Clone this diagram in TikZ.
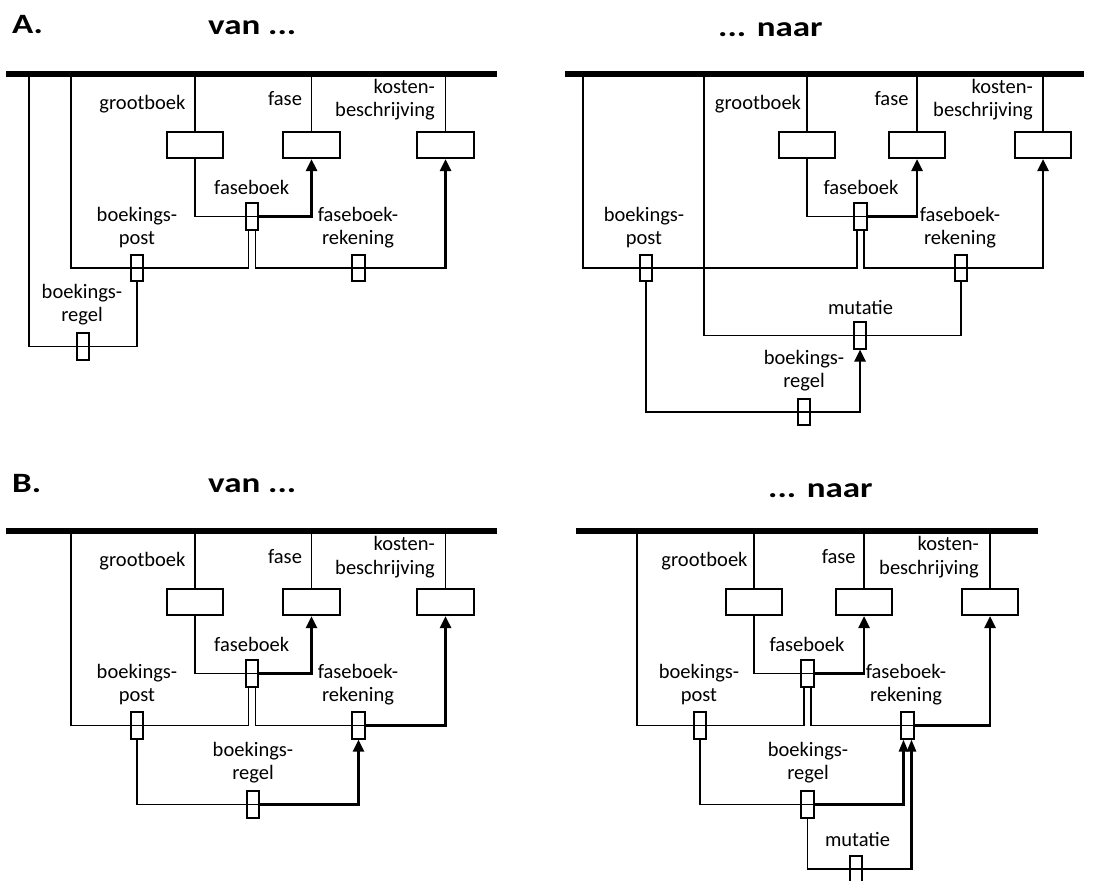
\documentclass[tikz,border=0pt]{standalone}
\usepackage{fontspec}
\usepackage{graphicx}
\setmainfont{Carlito}
\usetikzlibrary{arrows.meta}

% two-line labels whose baseline is that of the first line
\newcommand\lblc[2]{\vtop{\halign{\hfil##\hfil\cr#1\cr#2\cr}}}
\newcommand\lblr[2]{\vtop{\halign{\hfil##\cr#1\cr#2\cr}}}
\newcommand\hdrtext[1]{\scalebox{1.25}[1]{#1}}

\tikzset{
  ent/.style={draw, line width=1.6pt, minimum width=56.5pt, minimum height=26.5pt, inner sep=0pt},
  rel/.style={draw, line width=1.6pt, minimum width=12.5pt, minimum height=26.5pt, inner sep=0pt},
  ln/.style={line width=1.6pt},
  fn/.style={line width=2.6pt, -{Triangle[width=11pt,length=12pt]}},
  fnn/.style={line width=2.6pt, -{Triangle[width=9pt,length=12pt]}},
  bar/.style={line width=5.5pt},
  lbl/.style={font=\fontsize{20.5}{23.7}\selectfont, inner sep=0pt, anchor=base},
  lblR/.style={lbl, anchor=base east},
  hdr/.style={font=\fontsize{28}{30}\selectfont\bfseries, inner sep=0pt, anchor=base west},
}

\begin{document}
\begin{tikzpicture}[x=1pt, y=-1pt]
\useasboundingbox (0,0) rectangle (1115,880);
\clip (0,0) rectangle (1115,880);

% ---------- headings ----------
\node[hdr] (hA)  at (12,34)  {\hdrtext{A.}};
\node[hdr] (hAv) at (208,35) {\hdrtext{van ...}};
\node[hdr] (hAn) at (718,37) {\hdrtext{... naar}};
\node[hdr] (hB)  at (12,492) {\hdrtext{B.}};
\node[hdr] (hBv) at (208,492) {\hdrtext{van ...}};
\node[hdr] (hBn) at (768,497) {\hdrtext{... naar}};

% ================= A: van =================
\coordinate (avL) at (6,74);
\coordinate (avR) at (497,74);
\coordinate (av1) at (29,74);
\coordinate (av2) at (71,74);
\draw[bar] (avL) -- (avR);

\node[ent] (avG)  at (195,145) {};
\node[ent] (avF)  at (311.5,145) {};
\node[ent] (avK)  at (445.5,145) {};
\node[rel] (avFB) at (252,216.5) {};
\node[rel] (avP)  at (137,268) {};
\node[rel] (avFR) at (358.5,268) {};
\node[rel] (avBR) at (83,346.5) {};

\node[lbl]  (avGl)  at (142.5,109.3) {grootboek};
\node[lbl]  (avFl)  at (285,106) {fase};
\node[lblR] (avKl)  at (435,93.3) {\lblr{kosten-}{beschrijving}};
\node[lbl]  (avFBl) at (251.7,194.3) {faseboek};
\node[lbl]  (avPl)  at (137,221) {\lblc{boekings-}{post}};
\node[lbl]  (avFRl) at (358,221) {\lblc{faseboek-}{rekening}};
\node[lbl]  (avBRl) at (82,298) {\lblc{boekings-}{regel}};

\draw[ln] (avG.north) -- (avG.north |- avL);
\draw[ln] (avF.north) -- (avF.north |- avL);
\draw[ln] (avK.north) -- (avK.north |- avL);
\draw[ln] (avG.south) |- (avFB.east);
\draw[fn] (avFB.east) -| (avF.south);
\draw[ln] ([xshift=-3.5pt]avFB.south) |- (avP.center) -| (av2);
\draw[ln] ([xshift=3.5pt]avFB.south) |- (avFR.east);
\draw[fn] (avFR.east) -| (avK.south);
\draw[ln] (av1) |- (avBR.center) -| (avP.south);

% ================= A: naar =================
\coordinate (anL) at (565,74);
\coordinate (anR) at (1084,74);
\coordinate (an1) at (583,74);
\coordinate (an2) at (704,74);
\draw[bar] (anL) -- (anR);

\node[ent] (anG)  at (807,145) {};
\node[ent] (anF)  at (917,145) {};
\node[ent] (anK)  at (1043,145) {};
\node[rel] (anFB) at (860.5,216.5) {};
\node[rel] (anP)  at (646,268) {};
\node[rel] (anFR) at (961,268) {};
\node[rel] (anM)  at (860,335.5) {};
\node[rel] (anBR) at (804,412) {};

\node[lbl]  (anGl)  at (758,109.3) {grootboek};
\node[lbl]  (anFl)  at (891.5,106) {fase};
\node[lblR] (anKl)  at (1033,93.3) {\lblr{kosten-}{beschrijving}};
\node[lbl]  (anFBl) at (861,194.3) {faseboek};
\node[lbl]  (anPl)  at (644,221) {\lblc{boekings-}{post}};
\node[lbl]  (anFRl) at (960,221) {\lblc{faseboek-}{rekening}};
\node[lbl]  (anMl)  at (860.5,314) {mutatie};
\node[lbl]  (anBRl) at (804,364) {\lblc{boekings-}{regel}};

\draw[ln] (anG.north) -- (anG.north |- anL);
\draw[ln] (anF.north) -- (anF.north |- anL);
\draw[ln] (anK.north) -- (anK.north |- anL);
\draw[ln] (anG.south) |- (anFB.east);
\draw[fn] (anFB.east) -| (anF.south);
\draw[ln] ([xshift=-3.5pt]anFB.south) |- (anP.center) -| (an1);
\draw[ln] ([xshift=3.5pt]anFB.south) |- (anFR.east);
\draw[fn] (anFR.east) -| (anK.south);
\draw[ln] (anFR.south) |- (anM.center) -| (an2);
\draw[ln] (anP.south) |- (anBR.east);
\draw[fn] (anBR.east) -| (anM.south);

% ================= B: van =================
\coordinate (bvL) at (6,531);
\coordinate (bvR) at (497,531);
\coordinate (bv2) at (71,531);
\draw[bar] (bvL) -- (bvR);

\node[ent] (bvG)  at (195,602) {};
\node[ent] (bvF)  at (311.5,602) {};
\node[ent] (bvK)  at (445.5,602) {};
\node[rel] (bvFB) at (252,673.5) {};
\node[rel] (bvP)  at (137,725.5) {};
\node[rel] (bvFR) at (358.5,725.5) {};
\node[rel] (bvBR) at (253,804.5) {};

\node[lbl]  (bvGl)  at (142.5,566.3) {grootboek};
\node[lbl]  (bvFl)  at (285,563) {fase};
\node[lblR] (bvKl)  at (435,550.3) {\lblr{kosten-}{beschrijving}};
\node[lbl]  (bvFBl) at (251.7,651.3) {faseboek};
\node[lbl]  (bvPl)  at (137,678) {\lblc{boekings-}{post}};
\node[lbl]  (bvFRl) at (358,678) {\lblc{faseboek-}{rekening}};
\node[lbl]  (bvBRl) at (253,756) {\lblc{boekings-}{regel}};

\draw[ln] (bvG.north) -- (bvG.north |- bvL);
\draw[ln] (bvF.north) -- (bvF.north |- bvL);
\draw[ln] (bvK.north) -- (bvK.north |- bvL);
\draw[ln] (bvG.south) |- (bvFB.east);
\draw[fn] (bvFB.east) -| (bvF.south);
\draw[ln] ([xshift=-3.5pt]bvFB.south) |- (bvP.center) -| (bv2);
\draw[ln] ([xshift=3.5pt]bvFB.south) |- (bvFR.east);
\draw[fn] (bvFR.east) -| (bvK.south);
\draw[ln] (bvP.south) |- (bvBR.east);
\draw[fn] (bvBR.east) -| (bvFR.south);

% ================= B: naar =================
\coordinate (bnL) at (576,531);
\coordinate (bnR) at (1038,531);
\coordinate (bn1) at (637,531);
\draw[bar] (bnL) -- (bnR);

\node[ent] (bnG)  at (754,602) {};
\node[ent] (bnF)  at (864,602) {};
\node[ent] (bnK)  at (990,602) {};
\node[rel] (bnFB) at (807.5,673.5) {};
\node[rel] (bnP)  at (700,725.5) {};
\node[rel] (bnFR) at (907.5,725.5) {};
\node[rel] (bnBR) at (807.5,804.5) {};
\node[rel] (bnM)  at (856,869) {};

\node[lbl]  (bnGl)  at (704.5,566.3) {grootboek};
\node[lbl]  (bnFl)  at (838.7,563) {fase};
\node[lblR] (bnKl)  at (979,550.3) {\lblr{kosten-}{beschrijving}};
\node[lbl]  (bnFBl) at (807,651.3) {faseboek};
\node[lbl]  (bnPl)  at (699,678) {\lblc{boekings-}{post}};
\node[lbl]  (bnFRl) at (906,678) {\lblc{faseboek-}{rekening}};
\node[lbl]  (bnBRl) at (808,756) {\lblc{boekings-}{regel}};
\node[lbl]  (bnMl)  at (857.5,846.5) {mutatie};

\draw[ln] (bnG.north) -- (bnG.north |- bnL);
\draw[ln] (bnF.north) -- (bnF.north |- bnL);
\draw[ln] (bnK.north) -- (bnK.north |- bnL);
\draw[ln] (bnG.south) |- (bnFB.east);
\draw[fn] (bnFB.east) -| (bnF.south);
\draw[ln] ([xshift=-3.5pt]bnFB.south) |- (bnP.center) -| (bn1);
\draw[ln] ([xshift=3.5pt]bnFB.south) |- (bnFR.east);
\draw[fn] (bnFR.east) -| (bnK.south);
\draw[ln] (bnP.south) |- (bnBR.east);
\draw[fnn] (bnBR.east) -| ([xshift=-4pt]bnFR.south);
\draw[ln] (bnBR.south) |- (bnM.east);
\draw[fnn] (bnM.east) -| ([xshift=4pt]bnFR.south);
\end{tikzpicture}
\end{document}
